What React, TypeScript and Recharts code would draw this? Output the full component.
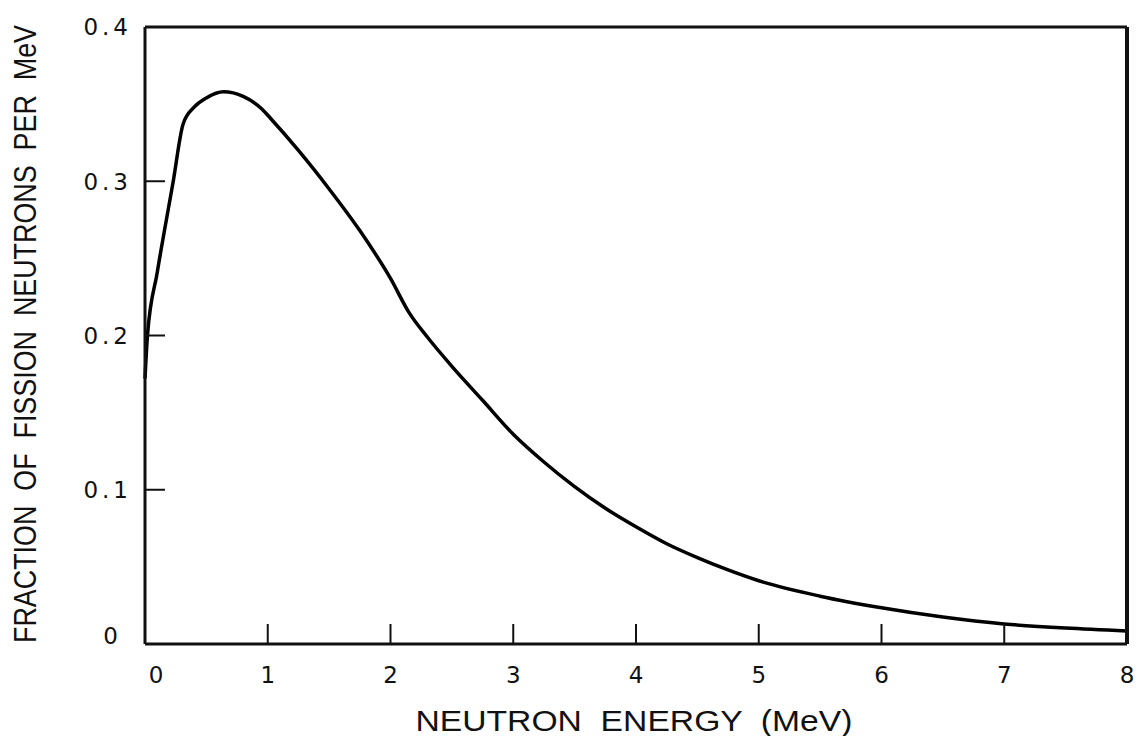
import React from 'react';
import { LineChart, Line, XAxis, YAxis, Label } from 'recharts';

// fission spectrum
const energy = [0, 0.02, 0.1, 0.23, 0.31, 0.4, 0.5, 0.64, 0.8, 0.95, 1.02, 1.25, 1.5, 1.75, 2.0, 2.15, 2.3, 2.5, 2.75, 3.0, 3.25, 3.5, 3.75, 4.0, 4.25, 4.5, 4.75, 5.0, 5.5, 6.0, 6.5, 7.0, 7.5, 8.0];
const fraction = [0.172, 0.2, 0.241, 0.3, 0.337, 0.348, 0.354, 0.358, 0.355, 0.347, 0.341, 0.32, 0.295, 0.268, 0.237, 0.215, 0.199, 0.18, 0.158, 0.136, 0.118, 0.102, 0.088, 0.076, 0.065, 0.056, 0.048, 0.041, 0.031, 0.0235, 0.0175, 0.013, 0.0103, 0.0085];

const xTicks = [0, 1, 2, 3, 4, 5, 6, 7, 8];
const yTicks = [0, 0.1, 0.2, 0.3, 0.4];
const xTitle = 'NEUTRON  ENERGY  (MeV)';
const yTitle = 'FRACTION  OF  FISSION  NEUTRONS  PER  MeV';

const data = energy.map((e, i) => ({ e, f: fraction[i] }));

const ink = '#111';
const tickFont = '"DejaVu Sans", sans-serif';
const titleFont = '"Liberation Sans", Arial, sans-serif';

const XTick = (props: any) => {
  const { x, y, payload } = props;
  const shift = payload.value === 0 ? 11 : 0;
  return (
    <text x={x + shift + 2} y={y} textAnchor="middle" fontFamily={tickFont} fontSize={23} letterSpacing={4} fill={ink}>
      {payload.value}
    </text>
  );
};

const YTick = (props: any) => {
  const { x, y, payload } = props;
  const zero = payload.value === 0;
  return (
    <text x={zero ? x - 10 : x} y={zero ? y - 8 : y} dy="0.36em" textAnchor="end" fontFamily={tickFont} fontSize={23} letterSpacing={4} fill={ink}>
      {zero ? '0' : payload.value.toFixed(1)}
    </text>
  );
};

const App: React.FC = () => {
  return (
    <div style={{ position: 'absolute', left: 0, top: 0, background: '#fff' }}>
      <LineChart width={1138} height={736} data={data} margin={{ top: 0, right: 0, left: 0, bottom: 0 }}>
        <XAxis
          xAxisId="top"
          orientation="top"
          dataKey="e"
          type="number"
          domain={[0, 8]}
          ticks={xTicks}
          height={27}
          tick={false}
          tickSize={-20}
          axisLine={{ stroke: ink, strokeWidth: 3 }}
          tickLine={{ stroke: ink, strokeWidth: 2 }}
        />
        <XAxis
          xAxisId="bottom"
          dataKey="e"
          type="number"
          domain={[0, 8]}
          ticks={xTicks}
          height={92}
          tickSize={-20}
          tickMargin={59}
          tick={<XTick />}
          axisLine={{ stroke: ink, strokeWidth: 3 }}
          tickLine={{ stroke: ink, strokeWidth: 2 }}
        >
          <Label
            content={() => (
              <text x={634} y={731} textAnchor="middle" textLength={437} lengthAdjust="spacingAndGlyphs" fontFamily={titleFont} fontSize={29} fill={ink} style={{ whiteSpace: 'pre' }}>
                {xTitle}
              </text>
            )}
          />
        </XAxis>
        <YAxis
          yAxisId="left"
          type="number"
          domain={[0, 0.4]}
          ticks={yTicks}
          width={145}
          tickSize={-20}
          tickMargin={33}
          tick={<YTick />}
          axisLine={{ stroke: ink, strokeWidth: 3 }}
          tickLine={{ stroke: ink, strokeWidth: 2 }}
        >
          <Label
            content={() => (
              <g transform="translate(36 334) rotate(-90) scale(1 1.12)">
                <text x={0} y={0} textAnchor="middle" textLength={618} lengthAdjust="spacingAndGlyphs" fontFamily={titleFont} fontSize={28} fill={ink} style={{ whiteSpace: 'pre' }}>
                  {yTitle}
                </text>
              </g>
            )}
          />
        </YAxis>
        <YAxis
          yAxisId="right"
          orientation="right"
          type="number"
          domain={[0, 0.4]}
          ticks={yTicks}
          width={11}
          tickSize={-20}
          tick={false}
          axisLine={{ stroke: ink, strokeWidth: 4 }}
          tickLine={{ stroke: ink, strokeWidth: 2 }}
        />
        <Line
          xAxisId="bottom"
          yAxisId="left"
          type="monotone"
          dataKey="f"
          stroke="#000"
          strokeWidth={3.5}
          dot={false}
          activeDot={false}
          isAnimationActive={false}
        />
      </LineChart>
    </div>
  );
};

export default App;
